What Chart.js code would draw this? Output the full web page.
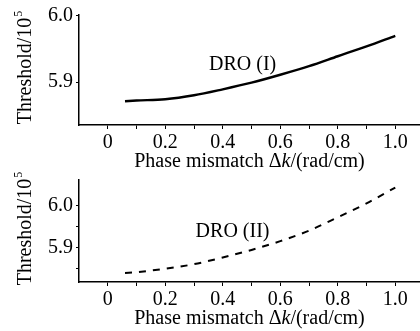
<!DOCTYPE html>
<html>
<head>
<meta charset="utf-8">
<script src="https://cdn.jsdelivr.net/npm/chart.js@4/dist/chart.umd.min.js"></script>
<style>
  html,body{margin:0;padding:0;background:#fff;overflow:hidden}
  .panel{position:absolute;left:0;width:420px}
  #p1{top:0;height:176px}
  #p2{top:165px;height:166px}
</style>
</head>
<body>
<div class="panel" id="p1"><canvas id="c1"></canvas></div>
<div class="panel" id="p2"><canvas id="c2"></canvas></div>
<script>
// phase mismatch (rad/cm) and threshold (x10^5) for both DRO cases
const dk1 = [0.06, 0.1, 0.2, 0.3, 0.4, 0.5, 0.6, 0.7, 0.8, 0.9, 1.0];
const thr1 = [5.871, 5.872, 5.874, 5.880, 5.889, 5.899, 5.911, 5.924, 5.939, 5.954, 5.970];
const dk2 = [0.06, 0.1, 0.2, 0.3, 0.4, 0.5, 0.6, 0.7, 0.8, 0.9, 1.0];
const thr2 = [5.839, 5.841, 5.849, 5.860, 5.876, 5.894, 5.915, 5.940, 5.972, 6.005, 6.043];

const xTicks = [0, 0.1, 0.2, 0.3, 0.4, 0.5, 0.6, 0.7, 0.8, 0.9, 1.0];
const yTicks1 = [5.9, 6.0];
const yTicks2 = [5.85, 5.9, 5.95, 6.0];

const FONT = '"Liberation Serif","Times New Roman",serif';
const BLACK = '#000';

// rich-text axis titles and curve captions (italic k, superscript 5)
const decor = {
  id: 'decor',
  afterDraw(chart, args, o) {
    const ctx = chart.ctx, a = chart.chartArea;
    ctx.save();
    ctx.fillStyle = BLACK;
    ctx.textBaseline = 'middle';

    // x title: Phase mismatch Δk/(rad/cm)
    const parts = [['Phase mismatch \u0394', 'normal'], ['k', 'italic'], ['/(rad/cm)', 'normal']];
    let w = 0;
    for (const [t, st] of parts) { ctx.font = st + ' 20px ' + FONT; w += ctx.measureText(t).width; }
    let x = (a.left + a.right) / 2 - w / 2;
    ctx.textAlign = 'left';
    for (const [t, st] of parts) { ctx.font = st + ' 20px ' + FONT; ctx.fillText(t, x, o.xTitleY); x += ctx.measureText(t).width; }

    // y title: Threshold/10^5
    ctx.translate(26, o.yTitleY);
    ctx.rotate(-Math.PI / 2);
    ctx.font = '20px ' + FONT;
    const base = 'Threshold/10';
    const bw = ctx.measureText(base).width;
    ctx.font = '12px ' + FONT;
    const sw = ctx.measureText('5').width;
    const x0 = -(bw + sw) / 2;
    ctx.font = '20px ' + FONT;
    ctx.fillText(base, x0, 0);
    ctx.font = '12px ' + FONT;
    ctx.fillText('5', x0 + bw + 1, -7);
    ctx.restore();

    // caption next to the curve
    ctx.save();
    ctx.fillStyle = BLACK;
    ctx.font = '20px ' + FONT;
    ctx.textAlign = 'center';
    ctx.textBaseline = 'middle';
    ctx.fillText(o.caption, chart.scales.x.getPixelForValue(o.capAt[0]), chart.scales.y.getPixelForValue(o.capAt[1]));
    ctx.restore();
  }
};

function makePanel(id, xs, ys, yMin, yMax, yTicks, dashed, topPad, xAxisH, opts) {
  return new Chart(document.getElementById(id), {
    type: 'line',
    data: { datasets: [{
      data: xs.map((x, i) => ({ x, y: ys[i] })),
      borderColor: BLACK, borderWidth: dashed ? 2 : 2.4,
      borderDash: dashed ? [7, 7] : [],
      pointRadius: 0, cubicInterpolationMode: 'monotone', fill: false
    }] },
    options: {
      responsive: true, maintainAspectRatio: false, animation: false,
      layout: { padding: { top: topPad, left: 0, right: 0, bottom: 0 } },
      plugins: { legend: { display: false }, tooltip: { enabled: false }, decor: opts },
      scales: {
        x: {
          type: 'linear', min: -0.1, max: 1.086,
          afterBuildTicks: s => { s.ticks = xTicks.map(v => ({ value: v })); },
          afterFit: s => { s.height = xAxisH; },
          grid: { drawOnChartArea: false, tickLength: 4, color: BLACK, lineWidth: 1 },
          border: { color: BLACK, width: 1.5 },
          ticks: {
            padding: 2, color: BLACK, font: { family: FONT, size: 20 }, maxRotation: 0, autoSkip: false,
            callback: v => (Math.abs(Math.round(v * 10) % 2) === 0 ? (v === 0 ? '0' : v.toFixed(1)) : '')
          }
        },
        y: {
          type: 'linear', min: yMin, max: yMax,
          afterBuildTicks: s => { s.ticks = yTicks.map(v => ({ value: v })); },
          afterFit: s => { s.width = 79; },
          grid: { drawOnChartArea: false, tickLength: 3, color: BLACK, lineWidth: 1 },
          border: { color: BLACK, width: 1.5 },
          ticks: {
            padding: 3, color: BLACK, font: { family: FONT, size: 20 }, autoSkip: false,
            callback: v => (Math.abs(v * 10 - Math.round(v * 10)) < 1e-6 ? v.toFixed(1) : '')
          }
        }
      }
    },
    plugins: [decor]
  });
}

makePanel('c1', dk1, thr1, 5.835, 6.0014, yTicks1, false, 10, 51,
  { xTitleY: 162, yTitleY: 68, caption: 'DRO (I)', capAt: [0.469, 5.926] });
makePanel('c2', dk2, thr2, 5.8174, 6.061, yTicks2, true, 5, 49,
  { xTitleY: 154, yTitleY: 64, caption: 'DRO (II)', capAt: [0.434, 5.937] });
</script>
</body>
</html>
